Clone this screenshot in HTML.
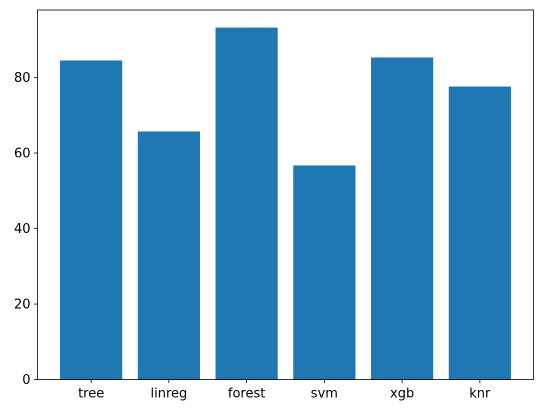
<!DOCTYPE html>
<html><head><meta charset="utf-8"><style>
body{margin:0;background:#fff;}
svg{display:block;font-family:"DejaVu Sans","Liberation Sans",sans-serif;}
</style></head><body>
<svg id="chart" width="543" height="413" xmlns="http://www.w3.org/2000/svg"></svg>
<script>
const categories = ["tree","linreg","forest","svm","xgb","knr"];
const values = [84.5, 65.7, 93.2, 56.7, 85.3, 77.6];
const yTicks = [0, 20, 40, 60, 80];

const NS = "http://www.w3.org/2000/svg";
const svg = document.getElementById("chart");
const L = 37.5, R = 533.5, T = 10, B = 379.6;
const n = categories.length, w = 0.8;
const xmin = -w/2 - 0.05*(n-1+w), xmax = n-1+w/2 + 0.05*(n-1+w);
const ymax = Math.max(...values) * 1.05;
const x = v => L + (v - xmin) / (xmax - xmin) * (R - L);
const y = v => B - v / ymax * (B - T);
function mk(tag, attrs, parent) {
  const e = document.createElementNS(NS, tag);
  for (const k in attrs) e.setAttribute(k, attrs[k]);
  (parent || svg).appendChild(e);
  return e;
}
values.forEach((v, i) => {
  const r = mk("rect", {x: x(i - w/2), y: y(v), width: x(i + w/2) - x(i - w/2), height: y(0) - y(v), fill: "#1f77b4"});
  
  
  const t = mk("line", {x1: x(i), x2: x(i), y1: B, y2: B + 3.5, stroke: "#000", "stroke-width": 0.8});
  
  
  const lb = mk("text", {x: x(i), y: B + 18, "text-anchor": "middle", "font-size": 13});
  lb.textContent = categories[i];
  
  
});
yTicks.forEach(v => {
  const t = mk("line", {x1: L - 3.5, x2: L, y1: y(v), y2: y(v), stroke: "#000", "stroke-width": 0.8});
  
  
  const lb = mk("text", {x: L - 7, y: y(v) + 4.5, "text-anchor": "end", "font-size": 13});
  lb.textContent = v;
  
  
});
const frame = mk("rect", {x: L, y: T, width: R - L, height: B - T, fill: "none", stroke: "#000", "stroke-width": 0.8});


</script>
</body></html>
